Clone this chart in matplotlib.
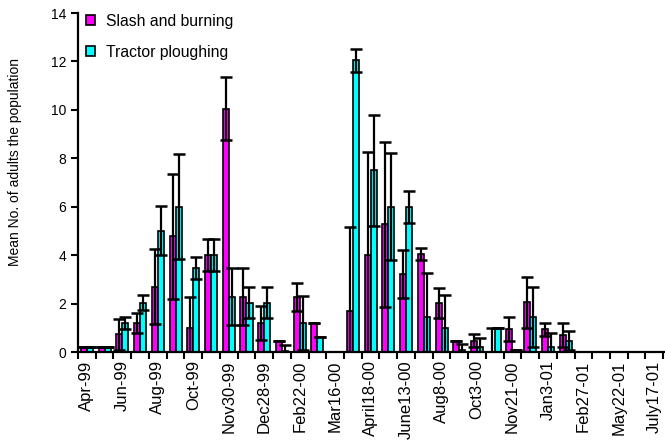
import numpy as np
import matplotlib
matplotlib.use("Agg")
from matplotlib import pyplot as plt
from matplotlib.patches import Patch

plt.rcParams['font.family'] = ['Liberation Sans', 'DejaVu Sans']

MAGENTA = "#ff00ff"
CYAN = "#00ffff"

# sampling dates (only every other one carries a label on the axis)
date_labels = ["Apr-99", "Jun-99", "Aug-99", "Oct-99", "Nov30-99", "Dec28-99",
               "Feb22-00", "Mar16-00", "April18-00", "June13-00", "Aug8-00",
               "Oct3-00", "Nov21-00", "Jan3-01", "Feb27-01", "May22-01", "July17-01"]
n_dates = 33

slash = [0.2, 0.2, 0.73, 1.21, 2.7, 4.77, 0.98, 4.01, 10.04, 2.29, 1.21,
         0.47, 2.29, 1.21, 0, 1.69, 4.0, 5.27, 3.21, 4.04, 2.04,
         0.47, 0.47, 0, 0.94, 2.05, 0.94, 0.7, 0, 0, 0, 0, 0]
slash_err = [0, 0, 0.65, 0.41, 1.55, 2.6, 1.3, 0.65, 1.3, 1.17, 0.7,
             0, 0.58, 0, 0, 3.49, 4.24, 3.4, 1.0, 0.25, 0.62,
             0, 0.26, 0.98, 0.5, 1.06, 0.27, 0.5, 0, 0, 0, 0, 0]

tractor = [0.2, 0.2, 1.21, 2.04, 5.01, 6.0, 3.46, 4.01, 2.29, 2.04, 2.04,
           0.05, 1.2, 0.6, 0, 12.04, 7.5, 6.0, 6.0, 1.46, 0.98,
           0.1, 0.22, 0.98, 0.1, 1.46, 0.2, 0.47, 0, 0, 0, 0, 0]
tractor_err = [0, 0, 0.25, 0.3, 1.0, 2.16, 0.45, 0.65, 1.17, 0.65, 0.65,
               0.25, 1.1, 0, 0, 0.49, 2.3, 2.2, 0.66, 1.82, 1.38,
               0.23, 0.35, 0, 0, 1.24, 0.57, 0.4, 0, 0, 0, 0, 0]

W, H = 665, 445
fig = plt.figure(figsize=(W / 100, H / 100), dpi=100)
ax = fig.add_axes([78 / W, 1 - 352 / H, (665 - 78) / W, (352 - 13) / H])

x = np.arange(n_dates)
bw = 0.34
ekw = dict(ecolor="black", elinewidth=1.6, capsize=4.5, capthick=1.8)
ax.bar(x - bw / 2, slash, bw, color=MAGENTA, edgecolor="black", linewidth=1.2,
       yerr=slash_err, error_kw=ekw)
ax.bar(x + bw / 2, tractor, bw, color=CYAN, edgecolor="black", linewidth=1.2,
       yerr=tractor_err, error_kw=ekw)

ax.set_xlim(-0.5, n_dates - 0.4)
ax.set_ylim(0, 14)
ax.set_yticks(np.arange(0, 15, 2))
ax.tick_params(axis="y", labelsize=10, length=5, width=1.5, direction="out")

# tick marks between categories, labels on every other category
ax.set_xticks(np.arange(-0.5, n_dates, 1))
ax.set_xticklabels([])
ax.tick_params(axis="x", which="major", length=5, width=1.5, direction="out")
ax.set_xticks(np.arange(0, n_dates, 2), minor=True)
ax.set_xticklabels(date_labels, minor=True, rotation=90, fontsize=12)
ax.tick_params(axis="x", which="minor", length=0, pad=6)

for s in ["top", "right"]:
    ax.spines[s].set_visible(False)
for s in ["left", "bottom"]:
    ax.spines[s].set_linewidth(1.6)

ax.set_ylabel("Mean No. of adults the population", fontsize=10)
ax.yaxis.set_label_coords(-0.095, 0.56)

handles = [Patch(facecolor=MAGENTA, edgecolor="black", linewidth=1.2, label="Slash and burning"),
           Patch(facecolor=CYAN, edgecolor="black", linewidth=1.2, label="Tractor ploughing")]
fig.legend(handles=handles, loc="upper left", bbox_to_anchor=(86 / W, 1 - 14 / H),
           frameon=False, fontsize=11.3, handlelength=0.6, handleheight=0.6,
           handletextpad=0.7, labelspacing=1.0, borderpad=0, borderaxespad=0)

fig.savefig("out.png", dpi=100)
